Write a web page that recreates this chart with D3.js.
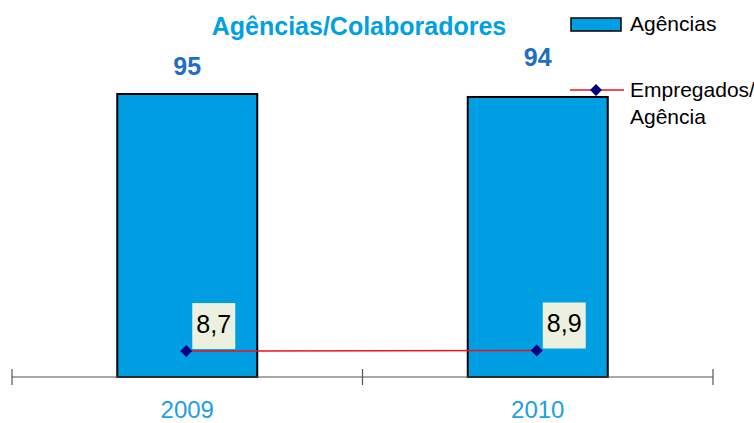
<!DOCTYPE html>
<html>
<head>
<meta charset="utf-8">
<script src="https://cdn.jsdelivr.net/npm/d3@7"></script>
<style>
body { margin: 0; background: #fff; }
text { font-family: "Liberation Sans", Arial, sans-serif; }
</style>
</head>
<body>
<div id="chart"></div>
<script>
var years = ['2009', '2010'];
var agencias = [95, 94];
var empregados = [8.7, 8.9];
var empLabels = ['8,7', '8,9'];

var width = 754, height = 423;
var x0 = 12, x1 = 713, baseY = 377;

var svg = d3.select('#chart').append('svg')
    .attr('width', width)
    .attr('height', height);

var xS = d3.scaleBand()
    .domain(years)
    .range([x0, x1])
    .paddingInner(0)
    .paddingOuter(0);

var barW = 140;
var yS = d3.scaleLinear()
    .domain([0, 95])
    .range([baseY, 94]);

// title
svg.append('text')
    .attr('x', 359).attr('y', 35)
    .attr('text-anchor', 'middle')
    .style('font-size', '25px').style('font-weight', 'bold')
    .style('fill', '#00A0E3')
    .text('Agências/Colaboradores');

// bars
svg.selectAll('rect.bar')
    .data(agencias)
    .enter().append('rect')
    .attr('class', 'bar')
    .attr('x', function(d, i) { return xS(years[i]) + xS.bandwidth() / 2 - barW / 2; })
    .attr('y', function(d) { return yS(d); })
    .attr('width', barW)
    .attr('height', function(d) { return baseY - yS(d); })
    .style('fill', '#009FE3')
    .style('stroke', '#000')
    .style('stroke-width', 2);

// bar value labels (positions as in original)
var labelY = [75, 66];
svg.selectAll('text.val')
    .data(agencias)
    .enter().append('text')
    .attr('class', 'val')
    .attr('x', function(d, i) { return xS(years[i]) + xS.bandwidth() / 2; })
    .attr('y', function(d, i) { return labelY[i]; })
    .attr('text-anchor', 'middle')
    .style('font-size', '25px').style('font-weight', 'bold')
    .style('fill', '#1F6EC0')
    .text(function(d) { return d; });

// axis
var axis = svg.append('g');
axis.append('line')
    .attr('x1', x0).attr('x2', x1)
    .attr('y1', baseY).attr('y2', baseY)
    .style('stroke', '#555').style('stroke-width', 1.2);
var ticks = [x0].concat(years.map(function(y) { return xS(y) + xS.bandwidth(); }));
axis.selectAll('line.tick')
    .data(ticks)
    .enter().append('line')
    .attr('class', 'tick')
    .attr('x1', function(d) { return d; }).attr('x2', function(d) { return d; })
    .attr('y1', 369).attr('y2', 385)
    .style('stroke', '#555').style('stroke-width', 1.2);
axis.selectAll('text.yr')
    .data(years)
    .enter().append('text')
    .attr('class', 'yr')
    .attr('x', function(d) { return xS(d) + xS.bandwidth() / 2; })
    .attr('y', 418)
    .attr('text-anchor', 'middle')
    .style('font-size', '24px')
    .style('fill', '#1E9FE0')
    .text(function(d) { return d; });

// line series
var lx = function(d, i) { return xS(years[i]) + xS.bandwidth() / 2 - 1; };
var line = d3.line()
    .x(lx)
    .y(function(d) { return yS(d); });
svg.append('path')
    .datum(empregados)
    .attr('d', line)
    .style('fill', 'none')
    .style('stroke', '#E8141B')
    .style('stroke-width', 1.5);

// data label boxes
var lbl = svg.selectAll('g.lbl')
    .data(empregados)
    .enter().append('g')
    .attr('class', 'lbl')
    .attr('transform', function(d, i) { return 'translate(' + (lx(d, i) + 6) + ',' + (yS(d) - 48) + ')'; });
lbl.append('rect')
    .attr('width', 43).attr('height', 46)
    .style('fill', '#EBF1DE');
lbl.append('text')
    .attr('x', 21.5).attr('y', 30)
    .attr('text-anchor', 'middle')
    .style('font-size', '25px')
    .style('fill', '#000')
    .text(function(d, i) { return empLabels[i]; });

var diamond = d3.symbol().type(d3.symbolSquare).size(72);
svg.selectAll('path.pt')
    .data(empregados)
    .enter().append('path')
    .attr('class', 'pt')
    .attr('d', diamond)
    .attr('transform', function(d, i) { return 'translate(' + lx(d, i) + ',' + yS(d) + ') rotate(45)'; })
    .style('fill', '#000080');

// legend
var lg = svg.append('g');
lg.append('rect')
    .attr('x', 571).attr('y', 18).attr('width', 50).attr('height', 13)
    .style('fill', '#009FE3').style('stroke', '#000').style('stroke-width', 1.5);
lg.append('text')
    .attr('x', 630).attr('y', 31)
    .style('font-size', '21px').text('Agências');
lg.append('line')
    .attr('x1', 570).attr('x2', 624).attr('y1', 90).attr('y2', 90)
    .style('stroke', '#E8141B').style('stroke-width', 1.5);
lg.append('path')
    .attr('d', diamond)
    .attr('transform', 'translate(596,90) rotate(45)')
    .style('fill', '#000080');
lg.append('text')
    .attr('x', 630).attr('y', 97)
    .style('font-size', '21px').text('Empregados/');
lg.append('text')
    .attr('x', 630).attr('y', 124)
    .style('font-size', '21px').text('Agência');
</script>
</body>
</html>
